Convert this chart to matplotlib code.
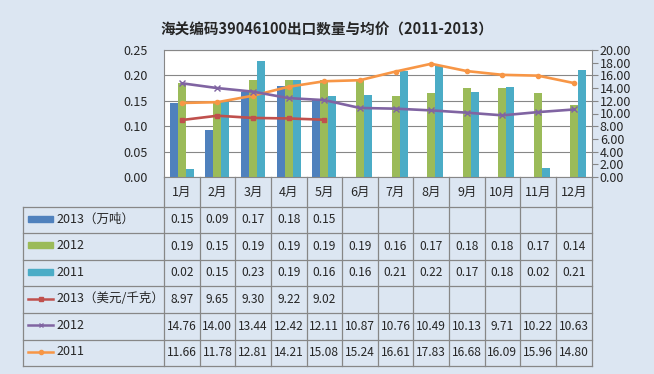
import numpy as np
import matplotlib
matplotlib.use("Agg")
from matplotlib import pyplot as plt
from matplotlib.patches import Rectangle
from matplotlib.lines import Line2D

plt.rcParams['font.family'] = ['Noto Sans CJK SC', 'DejaVu Sans']

months = ["1月", "2月", "3月", "4月", "5月", "6月", "7月", "8月", "9月", "10月", "11月", "12月"]

# export volume (10k tonnes)
vol_2013 = [0.146, 0.093, 0.168, 0.179, 0.152]
vol_2012 = [0.186, 0.148, 0.191, 0.191, 0.19, 0.19, 0.16, 0.166, 0.176, 0.176, 0.166, 0.142]
vol_2011 = [0.016, 0.148, 0.228, 0.19, 0.16, 0.162, 0.208, 0.218, 0.168, 0.178, 0.018, 0.21]

# average price (USD/kg)
price_2013 = [8.97, 9.65, 9.30, 9.22, 9.02]
price_2012 = [14.76, 14.00, 13.44, 12.42, 12.11, 10.87, 10.76, 10.49, 10.13, 9.71, 10.22, 10.63]
price_2011 = [11.66, 11.78, 12.81, 14.21, 15.08, 15.24, 16.61, 17.83, 16.68, 16.09, 15.96, 14.80]

series_names = ["2013（万吨）", "2012", "2011", "2013（美元/千克）", "2012", "2011"]

BG = "#DCE6F2"
GRID = "#878787"
TXT = "#262626"
C_BLUE, C_GREEN, C_TEAL = "#4F81BD", "#9BBB59", "#4BACC6"
C_RED, C_PURPLE, C_ORANGE = "#C0504D", "#8064A2", "#F79646"

W, H = 654, 374
fig = plt.figure(figsize=(W / 100, H / 100), dpi=100, facecolor=BG)


def fbox(x0, y0, x1, y1):
    # pixel box (top-left origin) -> figure fraction rect
    return [x0 / W, 1 - y1 / H, (x1 - x0) / W, (y1 - y0) / H]


px_left, px_right, px_top, px_bottom = 164, 591.5, 50, 177
ax = fig.add_axes(fbox(px_left, px_top, px_right, px_bottom))
ax.set_facecolor("white")
x = np.arange(len(months))
bw = 0.225
ax.bar(x[:len(vol_2013)] - bw, vol_2013, bw, color=C_BLUE, zorder=2)
ax.bar(x, vol_2012, bw, color=C_GREEN, zorder=2)
ax.bar(x + bw, vol_2011, bw, color=C_TEAL, zorder=2)
ax.set_xlim(-0.5, len(months) - 0.5)
ax.set_ylim(0, 0.25)
ax.set_yticks(np.arange(0, 0.251, 0.05))
ax.set_yticklabels(["%.2f" % v for v in np.arange(0, 0.251, 0.05)])
ax.yaxis.grid(True, color=GRID, linewidth=0.8, zorder=0)
ax.set_xticks([])
ax.tick_params(axis="y", length=0, labelsize=9, labelcolor=TXT, pad=12)
for s in ax.spines.values():
    s.set_color(GRID)
    s.set_linewidth(0.8)

ax2 = ax.twinx()
ax2.plot(x, price_2011, color=C_ORANGE, lw=1.9, marker="o", ms=3, zorder=3)
ax2.plot(x, price_2012, color=C_PURPLE, lw=1.9, marker="x", ms=4, mew=1, zorder=3)
ax2.plot(x[:len(price_2013)], price_2013, color=C_RED, lw=1.9, marker="s", ms=3.5, zorder=3)
ax2.set_ylim(0, 20)
ax2.set_yticks(np.arange(0, 20.1, 2))
ax2.set_yticklabels(["%.2f" % v for v in np.arange(0, 20.1, 2)])
ax2.tick_params(axis="y", labelsize=9, labelcolor=TXT, color=GRID, length=4, pad=2)
for s in ax2.spines.values():
    s.set_visible(False)

fig.text(0.5, 1 - 30 / H, "海关编码39046100出口数量与均价（2011-2013）",
         ha="center", va="center", fontsize=10.5, fontweight="bold", color=TXT)

# data table drawn in pixel coordinates
tx = fig.add_axes([0, 0, 1, 1], facecolor="none")
tx.set_xlim(0, W)
tx.set_ylim(H, 0)
tx.axis("off")

col_w = (px_right - px_left) / len(months)
tab_left = 23
row_top = 206.5
row_h = 26.6
n_rows = 6
tab_bottom = row_top + row_h * n_rows
lc = dict(color=GRID, lw=0.9)

# month label row
for i in range(len(months) + 1):
    xx = px_left + i * col_w
    tx.plot([xx, xx], [px_bottom, tab_bottom], **lc)
for i, m in enumerate(months):
    tx.text(px_left + (i + 0.5) * col_w, (px_bottom + row_top) / 2 + 1, m,
            ha="center", va="center", fontsize=9, color=TXT)

tx.plot([tab_left, tab_left], [row_top, tab_bottom], **lc)
for r in range(n_rows + 1):
    yy = row_top + r * row_h
    tx.plot([tab_left, px_right], [yy, yy], **lc)

table_rows = [
    (vol_2013, "bar", C_BLUE),
    (vol_2012, "bar", C_GREEN),
    (vol_2011, "bar", C_TEAL),
    (price_2013, "s", C_RED),
    (price_2012, "x", C_PURPLE),
    (price_2011, "o", C_ORANGE),
]
for r, (vals, kind, col) in enumerate(table_rows):
    yc = row_top + (r + 0.5) * row_h
    if kind == "bar":
        tx.add_patch(Rectangle((28, yc - 4), 25, 6, color=col))
    else:
        tx.add_line(Line2D([28, 53], [yc - 1, yc - 1], color=col, lw=1.8))
        tx.plot([40.5], [yc - 1], marker=kind, color=col, ms=3, mew=1)
    tx.text(56, yc - 1, series_names[r], ha="left", va="center", fontsize=9, color=TXT)
    for i, v in enumerate(vals):
        tx.text(px_left + (i + 0.5) * col_w, yc, "%.2f" % v,
                ha="center", va="center", fontsize=8.6, color=TXT)

fig.savefig("out.png", dpi=100, facecolor=BG)
